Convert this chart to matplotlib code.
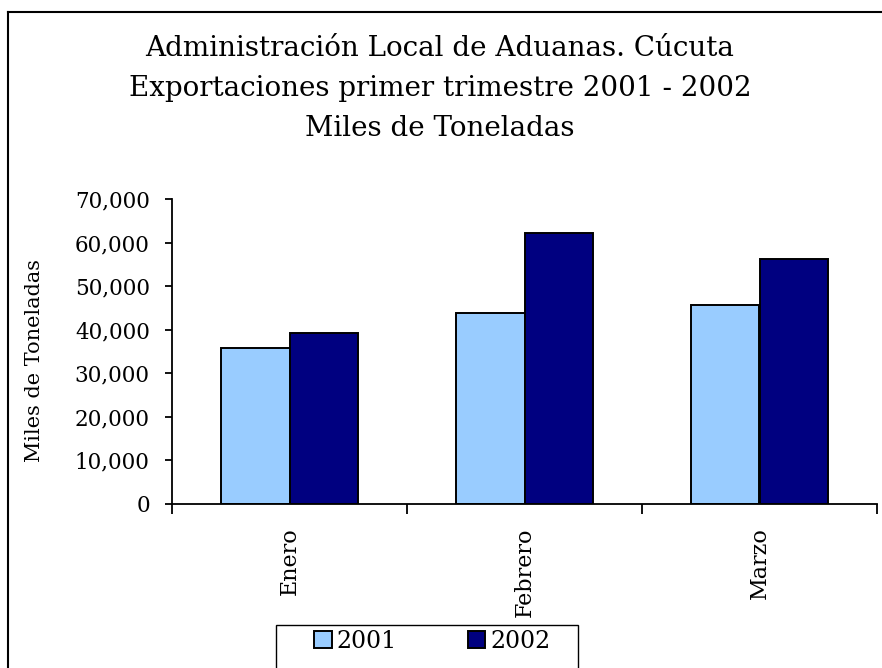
import matplotlib
matplotlib.use("Agg")
import matplotlib.pyplot as plt
from matplotlib.lines import Line2D
from matplotlib.patches import Rectangle
from matplotlib.ticker import FuncFormatter, FixedLocator
import numpy as np

title_lines = ["Administración Local de Aduanas. Cúcuta",
               "Exportaciones primer trimestre 2001 - 2002",
               "Miles de Toneladas"]
months = ["Enero", "Febrero", "Marzo"]
series_names = ["2001", "2002"]
values_2001 = [35900, 43800, 45600]
values_2002 = [39200, 62100, 56200]
y_label = "Miles de Toneladas"
y_ticks = [0, 10000, 20000, 30000, 40000, 50000, 60000, 70000]

plt.rcParams['font.family'] = ['DejaVu Serif']

W, H = 882, 668
fig = plt.figure(figsize=(W / 100, H / 100), dpi=100)

# outer chart frame (left and top edges visible)
fig.add_artist(Line2D([7.5 / W, 7.5 / W], [0, 1 - 11.5 / H], transform=fig.transFigure,
                      color='black', lw=1.5))
fig.add_artist(Line2D([7.5 / W, 1], [1 - 11.5 / H, 1 - 11.5 / H], transform=fig.transFigure,
                      color='black', lw=1.5))

for i, line in enumerate(title_lines):
    fig.text(440 / W, 1 - (48 + 40.5 * i) / H, line, ha='center', va='center',
             fontsize=20)

ax = fig.add_axes([172 / W, 1 - 504 / H, (877 - 172) / W, (504 - 199) / H])
x = np.arange(len(months))
w = 0.29
ax.bar(x - w / 2, values_2001, w, color='#99CCFF', edgecolor='black', linewidth=1.4,
       label=series_names[0])
ax.bar(x + w / 2, values_2002, w, color='#000080', edgecolor='black', linewidth=1.4,
       label=series_names[1])

ax.set_xlim(-0.5, len(months) - 0.5)
ax.set_ylim(0, 70000)
ax.set_yticks(y_ticks)
ax.yaxis.set_major_formatter(FuncFormatter(lambda v, p: f"{int(v):,}"))
ax.tick_params(axis='y', direction='out', length=5, width=1.3, labelsize=15.5, pad=11)

ax.xaxis.set_major_locator(FixedLocator(np.arange(-0.5, len(months), 1.0)))
ax.xaxis.set_major_formatter(FuncFormatter(lambda v, p: ""))
ax.set_xticks(x, minor=True)
ax.set_xticklabels(months, minor=True, rotation=90, fontsize=16, va='top')
ax.tick_params(axis='x', which='minor', length=0, pad=17)
ax.tick_params(axis='x', which='major', direction='out', length=7, width=1.3)

for s in ['top', 'right']:
    ax.spines[s].set_visible(False)
for s in ['left', 'bottom']:
    ax.spines[s].set_linewidth(1.3)

fig.text(35 / W, 1 - 361 / H, y_label, rotation=90, ha='center', va='center', fontsize=15)

# legend frame (cut off at the bottom edge, as in the original)
fig.add_artist(Rectangle((276 / W, -0.05), (578 - 276) / W, 1 - 625 / H + 0.05,
                         transform=fig.transFigure, fill=False, edgecolor='black', lw=1.0))
handles, labels = ax.get_legend_handles_labels()
leg = fig.legend(handles, labels, loc='center left', bbox_to_anchor=(314 / W, 1 - 641 / H),
                 ncol=2, frameon=False, fontsize=17,
                 handlelength=0.75, handleheight=0.75, handletextpad=0.2, columnspacing=3.0,
                 borderpad=0, borderaxespad=0)

fig.savefig("out.png", dpi=100)
